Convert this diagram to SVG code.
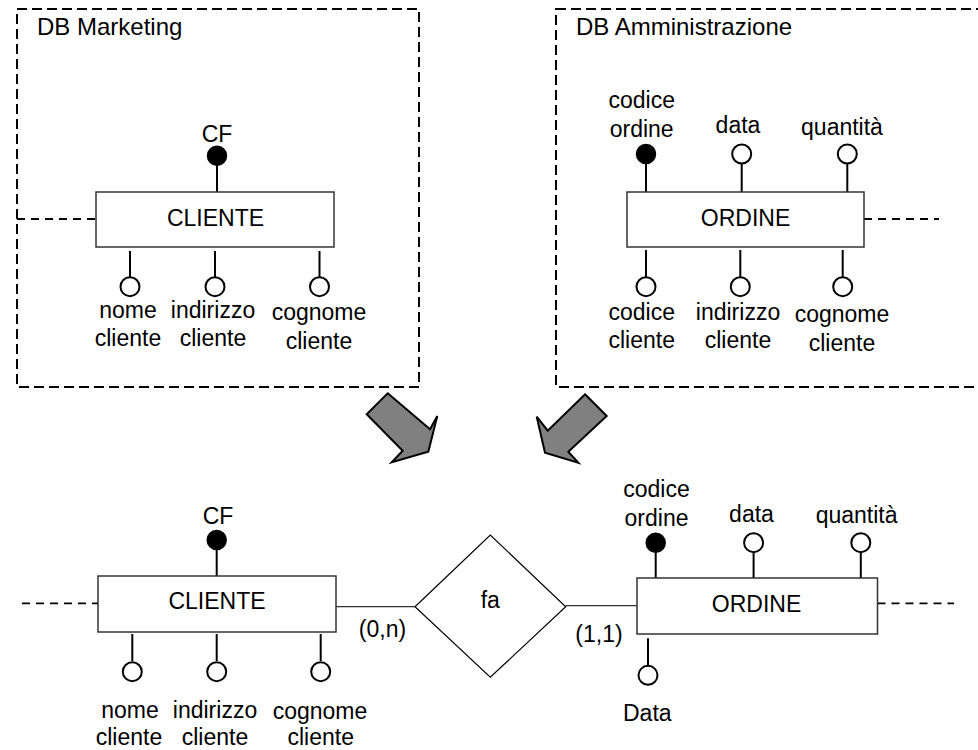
<svg xmlns="http://www.w3.org/2000/svg" width="978" height="750" viewBox="0 0 978 750">
  <style>
    text { font-family: "Liberation Sans", Arial, sans-serif; font-size: 23px; fill: #000; }
    .title { font-size: 24px; }
    .mid { text-anchor: middle; }
    .frame { fill: none; stroke: #000; stroke-width: 2; stroke-dasharray: 10 5; }
    .entity { fill: #fff; stroke: #333; stroke-width: 1.5; }
    .rel { fill: #fff; stroke: #000; stroke-width: 1.2; }
    .stem { stroke: #000; stroke-width: 2; }
    .link { stroke: #333; stroke-width: 1.3; fill: none; }
    .ext { stroke: #000; stroke-width: 1.8; stroke-dasharray: 8 6; fill: none; }
    .attr { fill: #fff; stroke: #000; stroke-width: 2; }
    .key { fill: #000; stroke: #000; stroke-width: 1.5; }
    .arrow { fill: #808080; stroke: #000; stroke-width: 2; stroke-linejoin: miter; }
  </style>

  <!-- source schema: marketing -->
  <g id="db-marketing">
    <rect class="frame" x="17" y="9" width="402" height="378"/>
    <text class="title" x="37" y="35">DB Marketing</text>
  </g>

  <!-- source schema: administration (frame runs off the right edge) -->
  <g id="db-amministrazione">
    <rect class="frame" x="556" y="9" width="440" height="378"/>
    <text class="title" x="576" y="35">DB Amministrazione</text>
  </g>

  <!-- connectors -->
  <g id="connectors">
    <!-- marketing CLIENTE -->
    <line class="ext" x1="17" y1="219" x2="96" y2="219"/>
    <line class="stem" x1="217" y1="165" x2="217" y2="192"/>
    <line class="stem" x1="130" y1="251" x2="130" y2="277"/>
    <line class="stem" x1="215" y1="251" x2="215" y2="277"/>
    <line class="stem" x1="319.5" y1="251" x2="319.5" y2="277"/>
    <!-- administration ORDINE -->
    <line class="ext" x1="864" y1="219" x2="939" y2="219"/>
    <line class="stem" x1="646" y1="164" x2="646" y2="192"/>
    <line class="stem" x1="741.7" y1="164" x2="741.7" y2="192"/>
    <line class="stem" x1="847.3" y1="164" x2="847.3" y2="192"/>
    <line class="stem" x1="646" y1="250" x2="646" y2="277"/>
    <line class="stem" x1="740.3" y1="250" x2="740.3" y2="277"/>
    <line class="stem" x1="842.7" y1="250" x2="842.7" y2="277"/>
    <!-- integrated schema -->
    <line class="ext" x1="22" y1="603.3" x2="98" y2="603.3"/>
    <line class="stem" x1="216.7" y1="550" x2="216.7" y2="576"/>
    <line class="stem" x1="132.3" y1="634" x2="132.3" y2="661"/>
    <line class="stem" x1="216.7" y1="634" x2="216.7" y2="661"/>
    <line class="stem" x1="320.7" y1="634" x2="320.7" y2="661"/>
    <line class="link" x1="336" y1="606.7" x2="415" y2="606.7"/>
    <line class="link" x1="565.7" y1="605.7" x2="637" y2="605.7"/>
    <line class="ext" x1="877.5" y1="603.3" x2="954" y2="603.3"/>
    <line class="stem" x1="655.7" y1="552.5" x2="655.7" y2="578"/>
    <line class="stem" x1="753.6" y1="552.5" x2="753.6" y2="578"/>
    <line class="stem" x1="860.8" y1="552.5" x2="860.8" y2="578"/>
    <line class="stem" x1="648" y1="638.3" x2="648" y2="666"/>
  </g>

  <!-- merge arrows -->
  <g id="arrow-left">
    <polygon class="arrow" points="387.7,393.3 430,429.3 437.3,416 428.3,451.7 391.7,462.3 402.7,450.7 366.7,414.3"/>
  </g>
  <g id="arrow-right">
    <polygon class="arrow" points="585,394.3 606.7,416 568.3,451.7 578.3,462.7 545,452.7 536.7,416.7 547.7,430.7"/>
  </g>

  <!-- marketing: CLIENTE entity -->
  <g id="m-cliente">
    <rect class="entity" x="96" y="192" width="238" height="55"/>
    <text class="mid" x="215.5" y="226">CLIENTE</text>
  </g>
  <g id="m-cf">
    <circle class="key" cx="217" cy="155.7" r="9.5"/>
    <text class="mid" x="217" y="141.7">CF</text>
  </g>
  <g id="m-nome">
    <circle class="attr" cx="130" cy="286.7" r="9.5"/>
    <text class="mid" x="128" y="318">nome</text>
    <text class="mid" x="128" y="346">cliente</text>
  </g>
  <g id="m-indirizzo">
    <circle class="attr" cx="215" cy="286.7" r="9.5"/>
    <text class="mid" x="213" y="318">indirizzo</text>
    <text class="mid" x="213" y="346">cliente</text>
  </g>
  <g id="m-cognome">
    <circle class="attr" cx="319.5" cy="286.7" r="9.5"/>
    <text class="mid" x="319" y="320">cognome</text>
    <text class="mid" x="319" y="348.5">cliente</text>
  </g>

  <!-- administration: ORDINE entity -->
  <g id="a-ordine">
    <rect class="entity" x="627" y="192" width="237" height="55"/>
    <text class="mid" x="745.5" y="226">ORDINE</text>
  </g>
  <g id="a-codice-ordine">
    <circle class="key" cx="646" cy="154" r="9.5"/>
    <text class="mid" x="641.7" y="108.3">codice</text>
    <text class="mid" x="641.7" y="137">ordine</text>
  </g>
  <g id="a-data">
    <circle class="attr" cx="741.7" cy="154" r="9.5"/>
    <text class="mid" x="738" y="133.3">data</text>
  </g>
  <g id="a-quantita">
    <circle class="attr" cx="847.3" cy="154" r="9.5"/>
    <text class="mid" x="842" y="135">quantità</text>
  </g>
  <g id="a-codice-cliente">
    <circle class="attr" cx="646" cy="286.7" r="9.5"/>
    <text class="mid" x="641.7" y="320">codice</text>
    <text class="mid" x="641.7" y="348.3">cliente</text>
  </g>
  <g id="a-indirizzo">
    <circle class="attr" cx="740.3" cy="286.7" r="9.5"/>
    <text class="mid" x="738" y="320">indirizzo</text>
    <text class="mid" x="738" y="348">cliente</text>
  </g>
  <g id="a-cognome">
    <circle class="attr" cx="842.7" cy="286.7" r="9.5"/>
    <text class="mid" x="842" y="321.7">cognome</text>
    <text class="mid" x="842" y="350.5">cliente</text>
  </g>

  <!-- integrated schema: CLIENTE -->
  <g id="i-cliente">
    <rect class="entity" x="98" y="576" width="238" height="56"/>
    <text class="mid" x="217" y="609">CLIENTE</text>
  </g>
  <g id="i-cf">
    <circle class="key" cx="216.7" cy="540" r="9.5"/>
    <text class="mid" x="218" y="524">CF</text>
  </g>
  <g id="i-nome">
    <circle class="attr" cx="132.3" cy="671.7" r="9.5"/>
    <text class="mid" x="130" y="718">nome</text>
    <text class="mid" x="129" y="744.5">cliente</text>
  </g>
  <g id="i-indirizzo">
    <circle class="attr" cx="216.7" cy="671.7" r="9.5"/>
    <text class="mid" x="215" y="718">indirizzo</text>
    <text class="mid" x="215" y="744.5">cliente</text>
  </g>
  <g id="i-cognome">
    <circle class="attr" cx="320.7" cy="671.7" r="9.5"/>
    <text class="mid" x="320" y="719">cognome</text>
    <text class="mid" x="320.7" y="745">cliente</text>
  </g>

  <!-- integrated schema: relationship fa -->
  <g id="i-fa">
    <polygon class="rel" points="415,606.7 490.3,535 565.7,606.7 490.3,677.3"/>
    <text class="mid" x="490.3" y="608.3">fa</text>
    <text class="mid" x="382.5" y="636.7">(0,n)</text>
    <text class="mid" x="599" y="641.7">(1,1)</text>
  </g>

  <!-- integrated schema: ORDINE -->
  <g id="i-ordine">
    <rect class="entity" x="637" y="578" width="240.5" height="56"/>
    <text class="mid" x="756.5" y="611.7">ORDINE</text>
  </g>
  <g id="i-codice-ordine">
    <circle class="key" cx="655.7" cy="542.7" r="9.5"/>
    <text class="mid" x="656.5" y="497.3">codice</text>
    <text class="mid" x="656.5" y="526">ordine</text>
  </g>
  <g id="i-data">
    <circle class="attr" cx="753.6" cy="542.7" r="9.5"/>
    <text class="mid" x="751.5" y="522.3">data</text>
  </g>
  <g id="i-quantita">
    <circle class="attr" cx="860.8" cy="542.7" r="9.5"/>
    <text class="mid" x="856.6" y="523.3">quantità</text>
  </g>
  <g id="i-data-ordine">
    <circle class="attr" cx="648" cy="675.3" r="9.5"/>
    <text class="mid" x="647.3" y="720.7">Data</text>
  </g>
</svg>
